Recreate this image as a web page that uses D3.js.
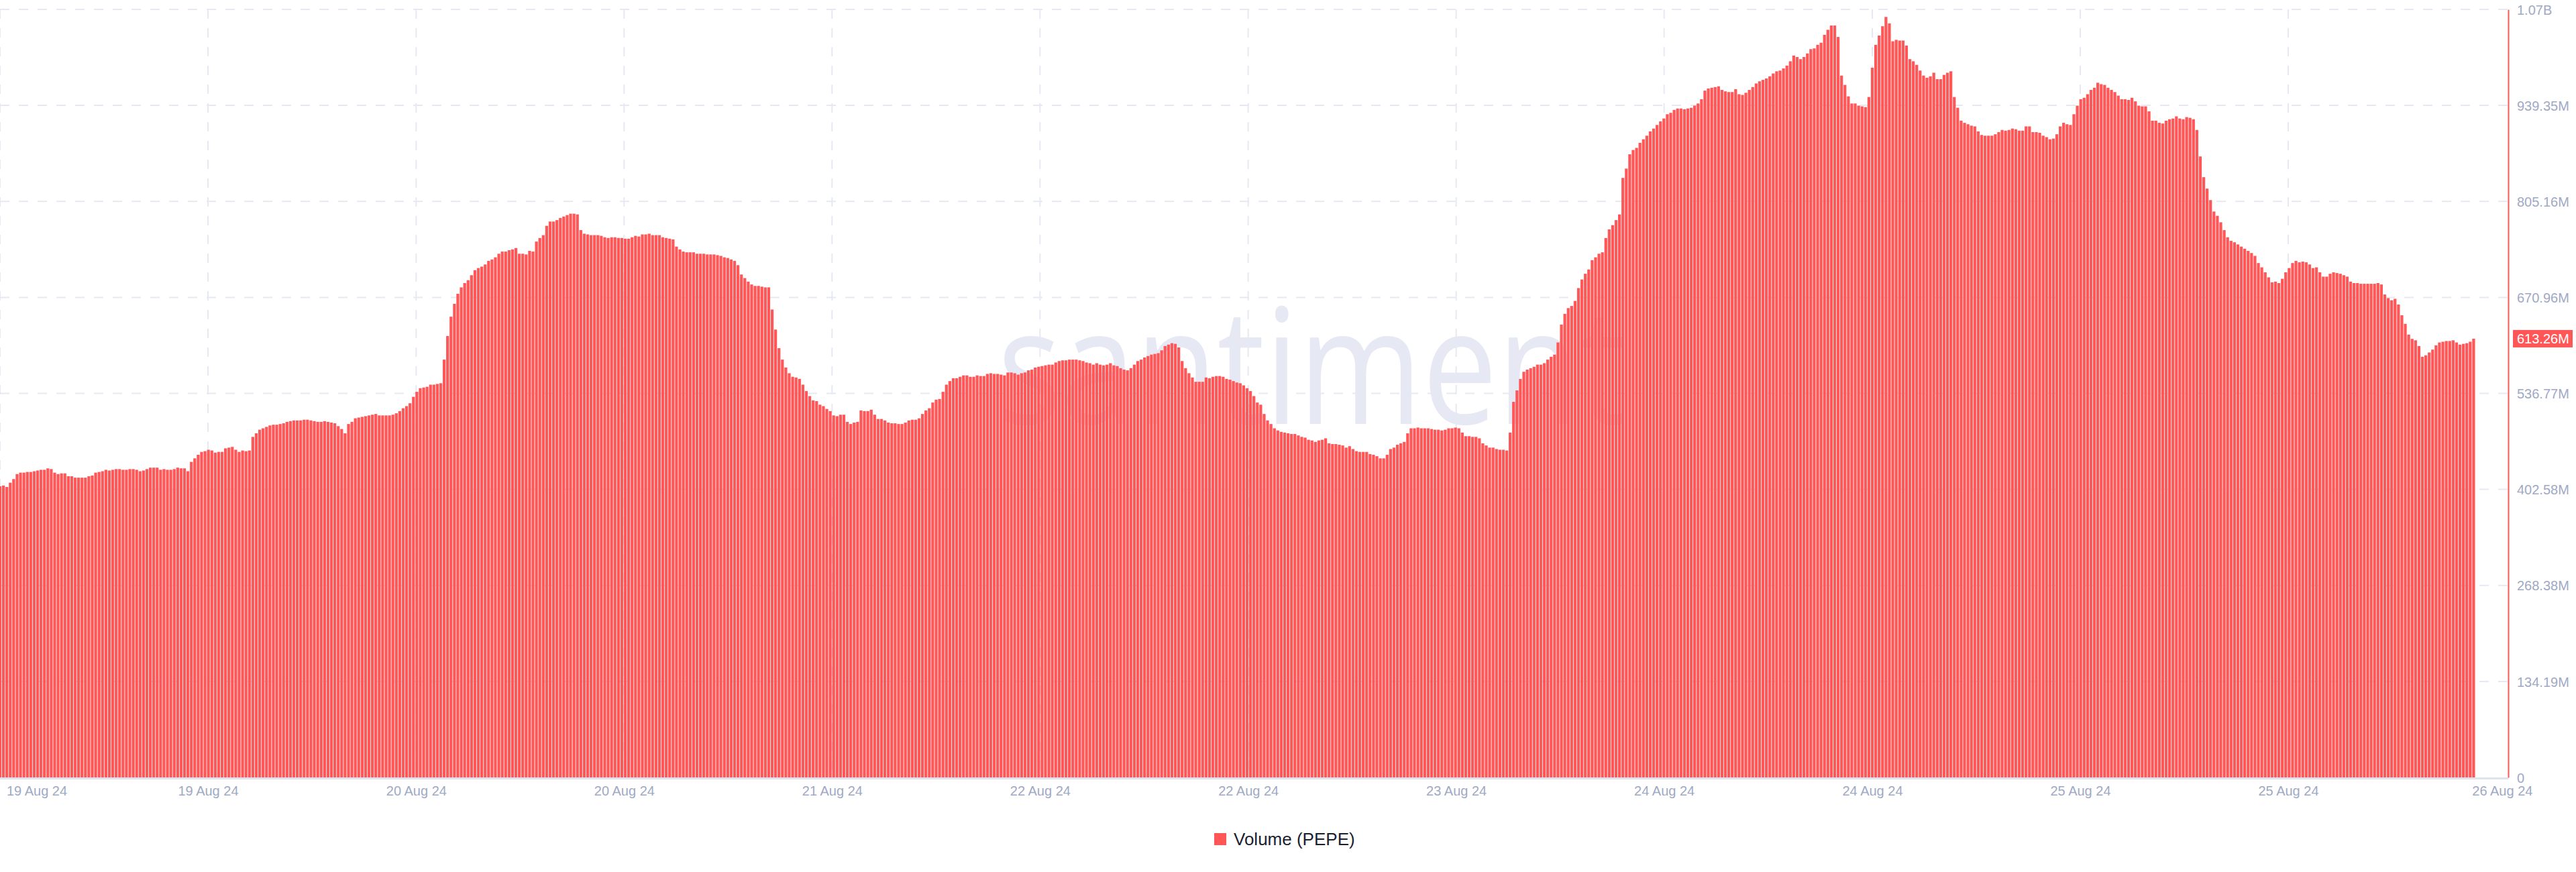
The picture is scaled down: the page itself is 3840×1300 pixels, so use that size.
<!DOCTYPE html>
<html><head><meta charset="utf-8">
<script src="https://cdn.jsdelivr.net/npm/d3@7"></script>
<style>html,body{margin:0;padding:0;background:#fff;} svg{display:block;}</style>
</head><body>
<svg id="chart" width="3840" height="1300"></svg>
<script>
// ---------------- data ----------------
const seriesName = "Volume (PEPE)";
const watermarkText = "santiment";
const firstBarTime = "2024-08-19T00:00:00Z";
const barStepMinutes = 15;
const xDomainEnd = "2024-08-26T15:32:00Z";

// volume, millions, one value per 15-minute bar
const volumeM = [
407,408,406,412,417,424,426,426,427,427,
428,429,430,430,432,431,426,424,425,425,
421,421,419,419,419,419,421,422,426,427,
428,430,429,430,431,431,430,430,431,431,
430,428,429,431,433,433,433,430,431,430,
430,431,433,432,432,428,441,446,451,455,
456,458,457,454,455,455,460,461,462,458,
455,457,456,457,476,
481,486,488,490,492,493,493,494,495,497,
498,499,499,499,500,500,499,498,497,497,
498,497,496,495,491,487,481,494,497,502,
503,504,505,506,507,508,506,506,506,506,
507,509,512,516,519,523,532,539,544,545,
546,549,549,550,551,
584,617,644,662,676,685,691,695,702,709,
712,714,717,722,724,727,732,735,735,737,
738,740,732,732,731,736,735,749,754,758,
771,777,777,779,782,784,786,788,788,787,
765,760,759,758,758,758,757,755,754,755,
755,754,754,753,753,755,757,756,759,759,
760,758,758,758,755,754,753,752,742,738,
735,734,734,734,732,732,732,731,731,731,
730,729,727,726,724,722,716,703,698,693,
689,687,687,686,685,685,654,626,600,584,
573,565,560,559,557,549,540,533,527,526,
521,519,515,512,506,505,507,507,497,494,
496,497,513,512,512,514,507,501,501,499,
496,495,495,494,494,496,499,500,500,502,
508,513,516,524,528,529,539,549,554,558,
558,560,562,562,560,560,562,561,561,
564,565,564,564,563,562,566,566,565,
563,565,566,569,570,573,574,575,576,577,
577,580,582,583,583,584,584,584,583,582,
580,579,577,579,577,576,577,579,576,575,
572,570,569,572,577,582,584,587,589,591,
592,593,597,603,605,607,606,601,582,572,
565,559,553,553,553,559,558,560,561,561,
560,557,556,554,552,551,548,544,540,533,524,
521,508,499,494,488,485,483,482,481,480,
480,478,476,475,472,471,469,471,472,474,
467,466,466,465,464,461,463,459,456,455,
455,455,452,451,449,446,446,451,459,461,
465,467,469,481,488,488,489,488,488,488,
487,486,486,485,486,488,488,489,488,482,
477,477,476,476,474,467,464,461,461,459,
458,458,457,482,525,541,557,567,570,572,
574,577,577,579,584,588,591,608,633,648,
656,659,666,684,696,704,710,723,727,732,
734,754,766,772,779,787,838,851,871,877,
880,887,892,897,903,907,912,917,921,927,
929,933,935,935,934,935,936,939,942,948,
960,963,964,965,966,961,959,958,958,962,
955,954,957,961,965,970,973,975,977,980,
984,987,988,991,995,1001,1009,1007,1004,1007,
1012,1018,1019,1024,1027,1038,1045,1051,1051,1035,
981,968,952,942,942,939,938,937,951,992,
1024,1037,1050,1063,1054,1029,1031,1030,1030,1023,
1004,1001,996,988,981,978,980,985,976,976,
982,985,987,951,936,918,915,913,911,910,
903,898,897,897,897,899,902,905,904,905,
907,906,904,904,910,910,902,902,901,897,
895,892,893,899,910,915,913,912,927,939,
948,950,955,961,964,971,969,968,964,961,
958,953,948,948,947,950,945,939,938,938,
931,918,918,915,914,918,920,921,924,921,
920,923,922,920,905,868,839,823,807,791,
785,776,765,755,750,748,745,742,739,736,
733,729,719,713,706,699,692,693,691,697,
706,712,719,722,720,721,720,717,712,713,
706,700,700,704,706,705,704,702,700,693,
691,691,690,690,690,690,690,691,689,675,
670,667,669,661,646,634,619,613,611,603,
588,590,594,598,604,608,609,610,610,611,
608,605,606,607,609,613.26
];

const yTickValuesM = [0, 134.19, 268.38, 402.58, 536.77, 670.96, 805.16, 939.35, 1073.54];
const xTickTimes = [
  "2024-08-19T00:00:00Z","2024-08-19T15:13:00Z","2024-08-20T06:27:00Z","2024-08-20T21:40:00Z",
  "2024-08-21T12:53:00Z","2024-08-22T04:06:00Z","2024-08-22T19:20:00Z","2024-08-23T10:33:00Z",
  "2024-08-24T01:46:00Z","2024-08-24T17:00:00Z","2024-08-25T08:13:00Z","2024-08-25T23:26:00Z"
];
const xEndTickTime = "2024-08-26T15:05:00Z";

// ---------------- layout ----------------
const W = 3840, H = 1300;
const plotLeft = 0, plotRight = 3739, plotTop = 14, plotBottom = 1159;
const red = "#ff5757", axisText = "#a0a9c4", gridColor = "#e6e9f3";

const svg = d3.select("#chart");
svg.append("rect").attr("width", W).attr("height", H).attr("fill", "#fff");

const t0 = new Date(firstBarTime);
const data = volumeM.map((v, i) => ({ t: new Date(t0.getTime() + i * barStepMinutes * 60000), v }));

const x = d3.scaleUtc().domain([t0, new Date(xDomainEnd)]).range([plotLeft, plotRight]);
const y = d3.scaleLinear().domain([0, yTickValuesM[yTickValuesM.length - 1]]).range([plotBottom, plotTop]);

// watermark
svg.append("text")
  .attr("x", 1487).attr("y", 632)
  .attr("textLength", 938).attr("lengthAdjust", "spacingAndGlyphs")
  .attr("font-family", "'Open Sans', 'Noto Sans', sans-serif")
  .attr("font-size", 240)
  .attr("fill", gridColor)
  .text(watermarkText);

// grid
const grid = svg.append("g");
grid.selectAll("line.h").data(yTickValuesM.slice(1)).join("line")
  .attr("x1", plotLeft).attr("x2", plotRight)
  .attr("y1", d => y(d)).attr("y2", d => y(d))
  .attr("stroke", gridColor).attr("stroke-width", 2).attr("stroke-dasharray", "14 14");
grid.selectAll("line.v").data(xTickTimes.map(s => new Date(s))).join("line")
  .attr("x1", d => x(d)).attr("x2", d => x(d))
  .attr("y1", plotTop).attr("y2", plotBottom)
  .attr("stroke", gridColor).attr("stroke-width", 2).attr("stroke-dasharray", "14 14");

// bars
const barW = 4.25;
svg.append("g").selectAll("rect").data(data).join("rect")
  .attr("x", d => x(d.t) - barW / 2)
  .attr("y", d => y(d.v))
  .attr("width", barW)
  .attr("height", d => plotBottom - y(d.v))
  .attr("fill", red);

// bottom axis line
svg.append("line").attr("x1", plotLeft).attr("x2", plotRight)
  .attr("y1", plotBottom + 1.5).attr("y2", plotBottom + 1.5)
  .attr("stroke", "#dfe3ee").attr("stroke-width", 3);

// x axis
const fmtDate = d3.utcFormat("%d %b %y");
const allXTicks = xTickTimes.map(s => new Date(s)).concat([new Date(xEndTickTime)]);
const gx = svg.append("g").attr("transform", `translate(0,${plotBottom})`)
  .call(d3.axisBottom(x).tickValues(allXTicks).tickFormat(fmtDate).tickSize(0).tickPadding(13));
gx.select(".domain").remove();
gx.selectAll("text")
  .attr("font-family", "'Liberation Sans', Arial, Helvetica, sans-serif")
  .attr("font-size", 20).attr("fill", axisText);
gx.selectAll(".tick").each(function () {
  const tick = d3.select(this);
  const txt = tick.select("text");
  const bb = txt.node().getBBox();
  const m = /translate\(([-\d.]+)/.exec(tick.attr("transform"));
  const tx = m ? +m[1] : 0;
  if (tx + bb.x < 10) txt.attr("x", 10 - tx - bb.x);
});

// y axis
const fmtVol = v => v === 0 ? "0" : (v >= 1000 ? (v / 1000).toFixed(2) + "B" : v.toFixed(2) + "M");
const gy = svg.append("g").attr("transform", `translate(${plotRight},0)`)
  .call(d3.axisRight(y).tickValues(yTickValuesM).tickFormat(fmtVol).tickSize(0).tickSizeOuter(0).tickPadding(13));
gy.select(".domain").attr("stroke", red).attr("stroke-width", 2);
gy.selectAll("text")
  .attr("font-family", "'Liberation Sans', Arial, Helvetica, sans-serif")
  .attr("font-size", 20).attr("fill", axisText).attr("dy", "0.36em");

// last value badge
const last = volumeM[volumeM.length - 1];
const by = y(last);
svg.append("rect").attr("x", plotRight + 7).attr("y", by - 13).attr("width", 89).attr("height", 26).attr("fill", red);
svg.append("text").attr("x", plotRight + 13).attr("y", by).attr("dy", "0.36em")
  .attr("font-family", "'Liberation Sans', Arial, Helvetica, sans-serif")
  .attr("font-size", 20).attr("fill", "#fff").text(fmtVol(last));

// legend
const lg = svg.append("g");
lg.append("rect").attr("x", 1810).attr("y", 1242).attr("width", 18).attr("height", 18).attr("fill", red);
lg.append("text").attr("x", 1839).attr("y", 1260)
  .attr("font-family", "'Liberation Sans', Arial, Helvetica, sans-serif")
  .attr("font-size", 26).attr("fill", "#1b1e2e").text(seriesName);
</script>
</body></html>
